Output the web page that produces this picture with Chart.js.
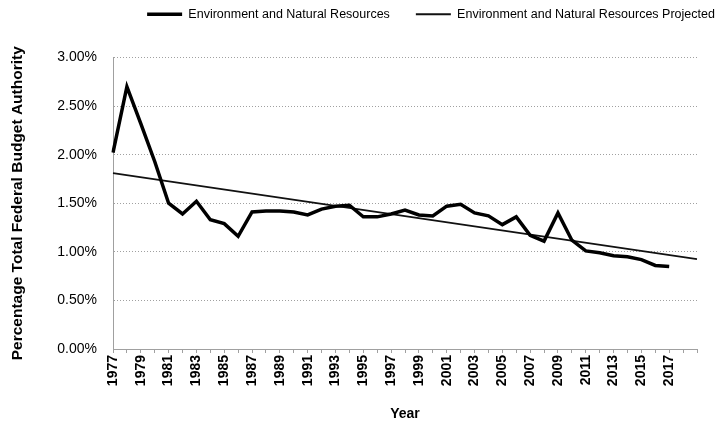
<!DOCTYPE html>
<html>
<head>
<meta charset="utf-8">
<script src="https://cdn.jsdelivr.net/npm/chart.js@4"></script>
<style>
  html, body { margin: 0; padding: 0; background: #fff; }
  #wrap { width: 716px; height: 425px; }
</style>
</head>
<body>
<div id="wrap"><canvas id="resultChart" width="716" height="425"></canvas></div>
<script>
// years on the axis; 2019 is only reached by the projected trend line
const years = [
  "1977", "1978", "1979", "1980", "1981", "1982", "1983", "1984", "1985", "1986",
  "1987", "1988", "1989", "1990", "1991", "1992", "1993", "1994", "1995", "1996",
  "1997", "1998", "1999", "2000", "2001", "2002", "2003", "2004", "2005", "2006",
  "2007", "2008", "2009", "2010", "2011", "2012", "2013", "2014", "2015", "2016",
  "2017", "2018", "2019"
];

// percent of total federal budget authority, 1977-2017
const envShare = [
  2.02, 2.70, 2.32, 1.93, 1.50, 1.39, 1.52, 1.33, 1.29, 1.16,
  1.41, 1.42, 1.42, 1.41, 1.38, 1.44, 1.47, 1.48, 1.36, 1.36,
  1.39, 1.43, 1.38, 1.37, 1.47, 1.49, 1.40, 1.37, 1.28, 1.36,
  1.17, 1.11, 1.40, 1.12, 1.01, 0.99, 0.96, 0.95, 0.92, 0.86,
  0.85
];

// straight trend line: start value (1977) and end value (2019)
const projectedStart = 1.81;
const projectedEnd = 0.925;

const yTicks = [0, 0.5, 1, 1.5, 2, 2.5, 3];

const projected = years.map((y, i) => {
  if (i === 0) return projectedStart;
  if (i === years.length - 1) return projectedEnd;
  return null;
});

const font = "'Liberation Sans', Arial, sans-serif";
const gridColor = '#a0a0a0';

// move the legend to where it sits in the original figure
const nudgeLegend = {
  id: 'nudgeLegend',
  afterLayout(chart) {
    const lg = chart.legend;
    lg.left += 80;
    lg.right += 80;
    lg.top -= 27;
    lg.bottom -= 27;
  }
};

function renderChart() {
  const ctx = document.getElementById('resultChart').getContext('2d');
  new Chart(ctx, {
    type: 'line',
    data: {
      labels: years,
      datasets: [
        {
          label: 'Environment and Natural Resources',
          data: envShare,
          borderColor: '#000',
          backgroundColor: '#000',
          borderWidth: 3.5,
          pointRadius: 0,
          tension: 0,
          fill: false
        },
        {
          label: 'Environment and Natural Resources Projected',
          data: projected,
          borderColor: '#111',
          backgroundColor: '#111',
          borderWidth: 1.8,
          pointRadius: 0,
          spanGaps: true,
          fill: false
        }
      ]
    },
    options: {
      responsive: false,
      animation: false,
      layout: { padding: { left: 5, right: 19, top: 9, bottom: 0 } },
      plugins: {
        tooltip: { enabled: false },
        legend: {
          position: 'top',
          labels: {
            color: '#000',
            font: { family: font, size: 12.5 },
            usePointStyle: true,
            pointStyle: 'line',
            pointStyleWidth: 35,
            padding: 26
          }
        }
      },
      scales: {
        x: {
          offset: false,
          afterFit(scale) { scale.height = 76; },
          grid: { drawOnChartArea: false, drawTicks: true, tickLength: 4, color: gridColor },
          border: { color: gridColor, dash: [1, 2] },
          ticks: {
            color: '#000',
            font: { family: font, size: 14, weight: 'bold' },
            autoSkip: false,
            maxRotation: 90,
            minRotation: 90,
            padding: 2,
            callback: function (value, index) {
              return (index % 2 === 0 && index < years.length - 1) ? years[index] : '';
            }
          },
          title: {
            display: true,
            text: 'Year',
            color: '#000',
            font: { family: font, size: 14, weight: 'bold' },
            padding: { top: 0, bottom: 2 }
          }
        },
        y: {
          min: 0,
          max: 3,
          afterFit(scale) { scale.width = 108; },
          afterBuildTicks(scale) { scale.ticks = yTicks.map(v => ({ value: v })); },
          grid: { color: gridColor, drawTicks: false, lineWidth: 1 },
          border: { color: gridColor, dash: [1, 2] },
          ticks: {
            color: '#000',
            font: { family: font, size: 14 },
            padding: 16,
            callback: v => v.toFixed(2) + '%'
          },
          title: {
            display: true,
            text: 'Percentage Total Federal Budget Authority',
            color: '#000',
            font: { family: font, size: 15.5, weight: 'bold' },
            padding: { top: 3, bottom: 4 }
          }
        }
      }
    },
    plugins: [nudgeLegend]
  });
}

renderChart();
</script>
</body>
</html>
